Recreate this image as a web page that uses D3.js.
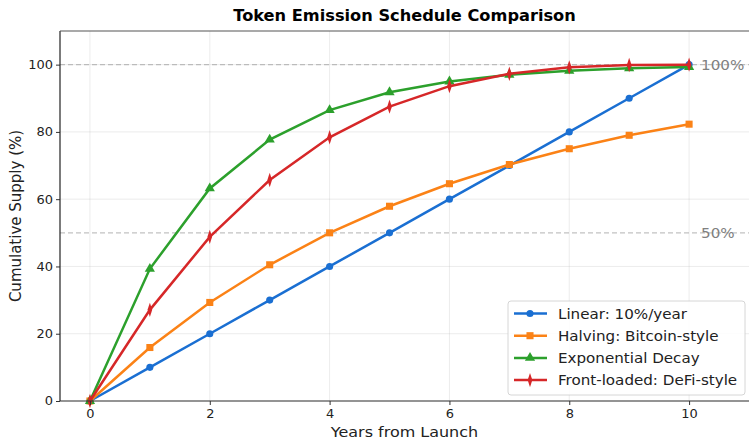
<!DOCTYPE html>
<html>
<head>
  <style>
    body { margin: 0; background: #fff; }
    text { font-family: "DejaVu Sans", sans-serif; }
  </style>
  <title>Token Emission Schedule Comparison</title>
</head>
<body>
  <script src="https://cdn.jsdelivr.net/npm/d3@7"></script>
  <script>
    // data
    var years = [0, 1, 2, 3, 4, 5, 6, 7, 8, 9, 10]
    var linear = [0, 10, 20, 30, 40, 50, 60, 70, 80, 90, 100]
    var halving = [0, 15.9, 29.3, 40.5, 50, 57.9, 64.6, 70.3, 75, 79, 82.3]
    var expDecay = [0, 39.3, 63.2, 77.7, 86.5, 91.8, 95, 97, 98.2, 98.9, 99.3]
    var frontLoaded = [0, 27.1, 48.8, 65.7, 78.4, 87.5, 93.6, 97.3, 99.2, 99.9, 100]
    var seriesNames = ["Linear: 10%/year", "Halving: Bitcoin-style", "Exponential Decay", "Front-loaded: DeFi-style"]
    var xTicks = [0, 2, 4, 6, 8, 10]
    var yTicks = [0, 20, 40, 60, 80, 100]
    var refLines = [100, 50]
    var refLabels = ["100%", "50%"]

    var colors = ["#1a6fd2", "#fb8216", "#2ca02c", "#d62728"]
    var markers = ["circle", "square", "triangle", "diamond"]
    var allSeries = [linear, halving, expDecay, frontLoaded]

    var width = 749, height = 440
    var margin = {top: 31, right: 0, bottom: 39, left: 60}
    var sx = 1.08   // the picture is a little wider than tall, text too

    var svg = d3.select("body").append("svg")
      .attr("width", width)
      .attr("height", height)

    var x = d3.scaleLinear().domain([-0.5, 11]).range([margin.left, width - margin.right])
    var y = d3.scaleLinear().domain([0, 110]).range([height - margin.bottom, margin.top])

    // horizontal text, stretched a bit in x
    function label(parent, px, py, str, size, anchor) {
      return parent.append("text")
        .attr("transform", "translate(" + px + "," + py + ") scale(" + sx + ",1)")
        .attr("text-anchor", anchor || "start")
        .attr("font-size", size)
        .text(str)
    }

    // grid
    svg.append("g").selectAll("line").data(xTicks).enter().append("line")
      .attr("x1", d => x(d)).attr("x2", d => x(d))
      .attr("y1", y(0)).attr("y2", y(110))
      .attr("stroke", "#b0b0b0").attr("stroke-opacity", 0.3).attr("stroke-width", 0.8)
    svg.append("g").selectAll("line").data(yTicks).enter().append("line")
      .attr("x1", x(-0.5)).attr("x2", x(11))
      .attr("y1", d => y(d)).attr("y2", d => y(d))
      .attr("stroke", "#b0b0b0").attr("stroke-opacity", 0.3).attr("stroke-width", 0.8)

    // reference lines
    svg.append("g").selectAll("line").data(refLines).enter().append("line")
      .attr("x1", x(-0.5)).attr("x2", x(11))
      .attr("y1", d => y(d)).attr("y2", d => y(d))
      .attr("stroke", "#999").attr("stroke-opacity", 0.6).attr("stroke-width", 1.2)
      .attr("stroke-dasharray", "5,3")

    // series
    var line = d3.line().x((d, i) => x(years[i])).y(d => y(d))
    var symbolFor = {
      circle: d3.symbol().type(d3.symbolCircle).size(40),
      square: d3.symbol().type(d3.symbolSquare).size(50),
      triangle: d3.symbol().type(d3.symbolTriangle).size(45),
      diamond: d3.symbol().type(d3.symbolDiamond).size(45)
    }

    allSeries.forEach(function (vals, s) {
      svg.append("path")
        .datum(vals)
        .attr("fill", "none")
        .attr("stroke", colors[s])
        .attr("stroke-width", 2.5)
        .attr("d", line)
      svg.append("g").selectAll("path").data(vals).enter().append("path")
        .attr("d", symbolFor[markers[s]])
        .attr("transform", function (d, i) {
          var t = "translate(" + x(years[i]) + "," + y(d) + ")"
          if (markers[s] == "diamond") t += " scale(0.65,1.15)"
          return t
        })
        .attr("fill", colors[s])
    })

    // reference labels
    var refG = svg.append("g").attr("fill", "#808080")
    refLines.forEach(function (d, i) {
      label(refG, x(10.2), y(d) + 5, refLabels[i], 14)
    })

    // axes
    var xAxis = d3.axisBottom(x).tickValues(xTicks).tickSize(4).tickPadding(4)
    var yAxis = d3.axisLeft(y).tickValues(yTicks).tickSize(4).tickPadding(4)

    svg.append("g")
      .attr("transform", "translate(0," + y(0) + ")")
      .call(xAxis)
      .call(g => g.select(".domain").remove())
      .selectAll("text").attr("font-size", 12).attr("fill", "#222")
      .attr("transform", "scale(" + sx + ",1)")
    svg.append("g")
      .attr("transform", "translate(" + x(-0.5) + ",0)")
      .call(yAxis)
      .call(g => g.select(".domain").remove())
      .selectAll("text").attr("font-size", 12).attr("fill", "#222")
      .attr("x", 0).attr("transform", "translate(-7,0) scale(" + sx + ",1)")
    svg.selectAll(".tick line").attr("stroke", "#333")

    // spines
    svg.append("line").attr("x1", x(-0.5)).attr("x2", x(11)).attr("y1", y(0)).attr("y2", y(0))
      .attr("stroke", "#333").attr("stroke-width", 1.2)
    svg.append("line").attr("x1", x(-0.5)).attr("x2", x(-0.5)).attr("y1", y(0)).attr("y2", y(110))
      .attr("stroke", "#222").attr("stroke-width", 1.2)
    svg.append("line").attr("x1", x(-0.5)).attr("x2", x(11)).attr("y1", y(110)).attr("y2", y(110))
      .attr("stroke", "#555").attr("stroke-width", 1.2)

    // titles
    label(svg, (x(-0.5) + x(11)) / 2, 21, "Token Emission Schedule Comparison", 15, "middle")
      .attr("font-weight", "bold")
    label(svg, (x(-0.5) + x(11)) / 2, 437, "Years from Launch", 14.8, "middle")
      .attr("fill", "#222")
    svg.append("text")
      .attr("transform", "translate(21," + y(55) + ") scale(" + sx + ",1) rotate(-90)")
      .attr("text-anchor", "middle")
      .attr("font-size", 15)
      .attr("fill", "#222")
      .text("Cumulative Supply (%)")

    // legend
    var legend = svg.append("g").attr("transform", "translate(508,301)")
    legend.append("rect")
      .attr("width", 237).attr("height", 94).attr("rx", 3)
      .attr("fill", "#fff").attr("fill-opacity", 0.85)
      .attr("stroke", "#ccc").attr("stroke-width", 0.8)
    seriesNames.forEach(function (name, s) {
      var yy = 12.5 + s * 22.2
      legend.append("line")
        .attr("x1", 6).attr("x2", 39).attr("y1", yy).attr("y2", yy)
        .attr("stroke", colors[s]).attr("stroke-width", 2.5)
      legend.append("path")
        .attr("d", symbolFor[markers[s]])
        .attr("transform", "translate(22," + yy + ")" + (markers[s] == "diamond" ? " scale(0.65,1.15)" : ""))
        .attr("fill", colors[s])
      label(legend, 50, yy + 5, name, 14).attr("fill", "#222")
    })
  </script>
</body>
</html>
